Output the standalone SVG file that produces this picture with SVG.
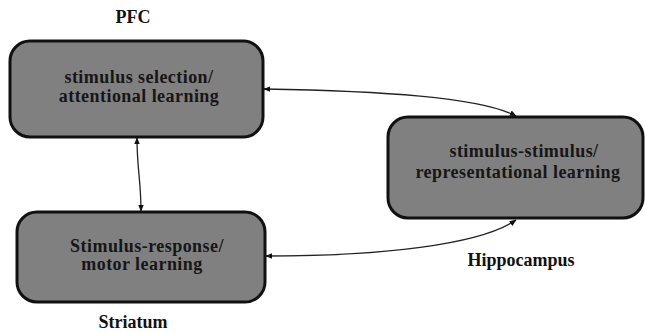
<svg xmlns="http://www.w3.org/2000/svg" width="645" height="333" viewBox="0 0 645 333">
<defs>
<marker id="ah" viewBox="0 0 10 10" refX="9" refY="5" markerWidth="7" markerHeight="7" markerUnits="userSpaceOnUse" orient="auto-start-reverse">
<path d="M0,1 L10,5 L0,9 z" fill="#111"/>
</marker>
<style>
.box{fill:#808080;stroke:#111;stroke-width:3}
.bt{font-family:"Liberation Serif","Times New Roman",serif;font-weight:bold;font-size:18px;letter-spacing:0.45px;fill:#161616;text-anchor:middle}
.lb{font-family:"Liberation Serif","Times New Roman",serif;font-weight:bold;font-size:18px;fill:#111;text-anchor:middle}
.cn{fill:none;stroke:#222;stroke-width:1.3;marker-start:url(#ah);marker-end:url(#ah)}
</style>
</defs>
<rect width="645" height="333" fill="#fff"/>
<g id="connectors">
<path class="cn" d="M264,89 C380,91 480,97 516,116"/>
<path class="cn" d="M137,138 C137,170 141,180 141,211"/>
<path class="cn" d="M266,256 C380,256 480,245 516,220"/>
</g>
<g id="pfc">
<rect class="box" x="10" y="41" width="253" height="96" rx="20"/>
<text class="bt" x="139" y="83">stimulus selection/</text>
<text class="bt" x="139" y="102">attentional learning</text>
<text class="lb" x="133" y="23">PFC</text>
</g>
<g id="hippocampus">
<rect class="box" x="388" y="117" width="255" height="101" rx="20"/>
<text class="bt" x="524" y="157">stimulus-stimulus/</text>
<text class="bt" x="518" y="178">representational learning</text>
<text class="lb" x="521" y="266">Hippocampus</text>
</g>
<g id="striatum">
<rect class="box" x="17" y="212" width="248" height="90" rx="20"/>
<text class="bt" x="147" y="252">Stimulus-response/</text>
<text class="bt" x="142" y="270">motor learning</text>
<text class="lb" x="133" y="328">Striatum</text>
</g>
</svg>
